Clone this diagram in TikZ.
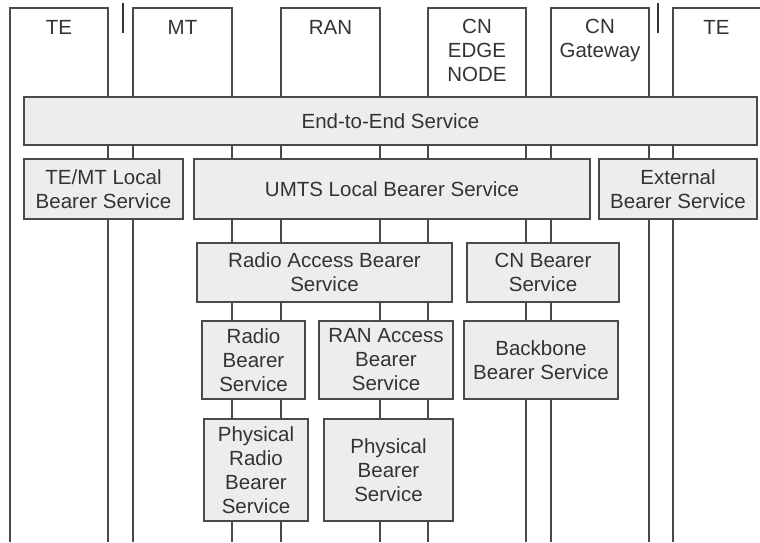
\documentclass[tikz,border=0pt]{standalone}
\usepackage{fontspec}
\setmainfont{Liberation Sans}
\definecolor{linegray}{HTML}{4A4A4A}
\definecolor{boxfill}{HTML}{EDEDED}
\definecolor{inkgray}{HTML}{333333}
\begin{document}
\begin{tikzpicture}[x=1pt,y=-1pt,
  lbl/.style={font=\fontsize{20.5}{24}\selectfont, text=inkgray, align=center, inner sep=0pt},
  column/.style={draw=linegray, line width=1.5pt},
  box/.style={draw=linegray, line width=1.5pt, fill=boxfill, text=inkgray,
    font=\fontsize{20.5}{24}\selectfont, align=center, inner sep=0pt},
  sepbar/.style={draw=black!80, line width=2.2pt}]
\useasboundingbox (0,0) rectangle (760,542);

% network element columns: open at the bottom, sides run to the lower edge
\foreach \l/\r in {10/108, 133/232, 281/380, 428/526, 551/649}
  \draw[column] (\l,542) -- (\l,8) -- (\r,8) -- (\r,542);
\draw[column] (673,542) -- (673,8) -- (760,8);

% column headings
\node[lbl, anchor=base] (te1) at (59,34) {TE};
\node[lbl, anchor=base] (mt)  at (182.5,34) {MT};
\node[lbl, anchor=base] (ran) at (330.5,34) {RAN};
\node[lbl, anchor=north] (cne) at (477,19) {CN\\EDGE\\NODE};
\node[lbl, anchor=north] (cng) at (600,19) {CN\\Gateway};
\node[lbl, anchor=base] (te2) at (716.5,34) {TE};

% interface markers between terminal parts
\coordinate (ua) at (123,3);  \coordinate (ub) at (123,33);
\coordinate (ga) at (658,3);  \coordinate (gb) at (658,33);
\draw[sepbar] (ua) -- (ub);
\draw[sepbar] (ga) -- (gb);

% bearer service layers
\node[box, minimum width=733pt, minimum height=48pt] (e2e) at (390.5,121) {End-to-End Service};

\node[box, minimum width=159pt, minimum height=60pt] (temt) at (103.5,189) {TE/MT Local\\Bearer Service};
\node[box, minimum width=396pt, minimum height=60pt] (umts) at (392,189) {UMTS Local Bearer Service};
\node[box, minimum width=158pt, minimum height=60pt] (ext) at (678,189) {External\\Bearer Service};

\node[box, minimum width=255pt, minimum height=59pt] (rab) at (324.5,272.5) {Radio Access Bearer\\Service};
\node[box, minimum width=152pt, minimum height=59pt] (cnb) at (543,272.5) {CN Bearer\\Service};

\node[box, minimum width=103pt, minimum height=78pt] (rb) at (253.5,360) {Radio\\Bearer\\Service};
\node[box, minimum width=134pt, minimum height=78pt] (ranab) at (386,360) {RAN Access\\Bearer\\Service};
\node[box, minimum width=154pt, minimum height=78pt] (bb) at (541,360) {Backbone\\Bearer Service};

\node[box, minimum width=104pt, minimum height=102pt] (prb) at (256,470) {Physical\\Radio\\Bearer\\Service};
\node[box, minimum width=129pt, minimum height=102pt] (pb) at (388.5,470) {Physical\\Bearer\\Service};
\end{tikzpicture}
\end{document}
